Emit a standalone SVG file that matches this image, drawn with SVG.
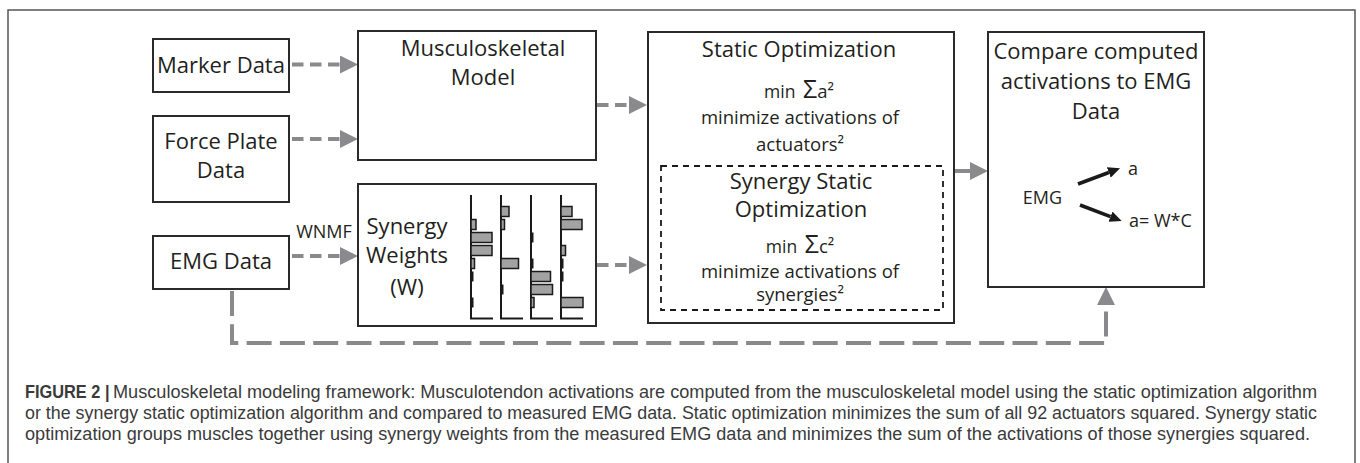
<svg xmlns="http://www.w3.org/2000/svg" width="1360" height="463" viewBox="0 0 1360 463">
<defs>
<style>
.box{fill:#fff;stroke:#2a2a2a;stroke-width:2}
.t{font-family:"Open Sans","Noto Sans",sans-serif;fill:#231f20;text-anchor:middle}
.t22{font-size:22px}
.t18{font-size:18.5px}
.con{fill:none;stroke:#8a8a8c;stroke-width:4}
.sd{stroke-dasharray:11.5 6.5}
.ld{stroke-dasharray:25 8.3}
.bar{fill:#a2a2a2;stroke:#1a1a1a;stroke-width:1.5}
.tick{fill:#1a1a1a}
.axis{fill:none;stroke:#1a1a1a;stroke-width:2}
.cap{font-family:"Liberation Sans",Arial,sans-serif;font-size:17.5px;fill:#3a3a3a}
</style>
<marker id="ga" markerUnits="userSpaceOnUse" markerWidth="18" markerHeight="18" refX="0" refY="9" orient="auto" viewBox="0 0 18 18">
<path d="M0,0 L18,9 L0,18 z" fill="#8a8a8c"/>
</marker>
<marker id="ba" markerUnits="userSpaceOnUse" markerWidth="12" markerHeight="11" refX="0" refY="5.5" orient="auto" viewBox="0 0 12 11">
<path d="M0,0 L12,5.5 L0,11 z" fill="#1a1a1a"/>
</marker>
</defs>
<rect width="1360" height="463" fill="#fff"/>
<path d="M8,463 V10 H1355 V463" fill="none" stroke="#555" stroke-width="1.5"/>

<g id="connectors">
<path class="con sd" d="M292,64.5 H340" marker-end="url(#ga)"/>
<path class="con sd" d="M292,139 H340" marker-end="url(#ga)"/>
<path class="con sd" d="M292,256 H340" marker-end="url(#ga)"/>
<path class="con sd" d="M597,105 H629" marker-end="url(#ga)"/>
<path class="con sd" d="M597,265 H629" marker-end="url(#ga)"/>
<path class="con" d="M955,171 H970" marker-end="url(#ga)"/>
<path class="con ld" d="M232,291 V343 H1106 V305" marker-end="url(#ga)"/>
</g>

<g id="marker-data">
<rect class="box" x="153" y="39" width="136" height="53"/>
<text class="t t22" x="221" y="73">Marker Data</text>
</g>

<g id="force-plate-data">
<rect class="box" x="153" y="116" width="136" height="86"/>
<text class="t t22" x="221" y="149">Force Plate</text>
<text class="t t22" x="221" y="178">Data</text>
</g>

<g id="emg-data">
<rect class="box" x="153" y="236" width="136" height="53"/>
<text class="t t22" x="221" y="269">EMG Data</text>
<text class="t" font-size="18" x="324" y="238">WNMF</text>
</g>

<g id="musculoskeletal-model">
<rect class="box" x="358" y="31" width="238" height="129"/>
<text class="t t22" x="483" y="56">Musculoskeletal</text>
<text class="t t22" x="483" y="85">Model</text>
</g>

<g id="synergy-weights">
<rect class="box" x="358" y="184" width="238" height="142"/>
<text class="t t22" x="407" y="234">Synergy</text>
<text class="t t22" x="407" y="263">Weights</text>
<text class="t t22" x="407" y="295">(W)</text>
<path class="axis" d="M471,195 V318.5 H493 M501,195 V318.5 H523 M531,195 V318.5 H553 M561,195 V318.5 H583"/>
<rect class="bar" x="471" y="219.5" width="5" height="10"/>
<rect class="bar" x="471" y="232.5" width="21" height="10"/>
<rect class="bar" x="471" y="245.5" width="21" height="10"/>
<rect class="bar" x="471" y="258.5" width="3.5" height="10"/>
<rect class="tick" x="471" y="271.5" width="2.5" height="10"/>
<rect class="tick" x="471" y="297.5" width="2.5" height="10"/>
<rect class="bar" x="501" y="206.5" width="8" height="10"/>
<rect class="bar" x="501" y="219.5" width="3.5" height="10"/>
<rect class="bar" x="501" y="258.5" width="17.5" height="10"/>
<rect class="tick" x="501" y="284.5" width="2.5" height="10"/>
<rect class="tick" x="531" y="232.5" width="2.5" height="10"/>
<rect class="tick" x="531" y="258.5" width="2.5" height="10"/>
<rect class="bar" x="531" y="271.5" width="19.5" height="10"/>
<rect class="bar" x="531" y="284.5" width="21.5" height="10"/>
<rect class="bar" x="531" y="297.5" width="3" height="10"/>
<rect class="bar" x="561" y="206.5" width="11" height="10"/>
<rect class="bar" x="561" y="219.5" width="21" height="10"/>
<rect class="bar" x="561" y="245.5" width="4.5" height="10"/>
<rect class="tick" x="561" y="258.5" width="2.5" height="10"/>
<rect class="tick" x="561" y="271.5" width="2.5" height="10"/>
<rect class="bar" x="561" y="297.5" width="22" height="10"/>
</g>

<g id="static-optimization">
<rect class="box" x="648" y="32" width="306" height="291"/>
<text class="t t22" x="799" y="57">Static Optimization</text>
<text class="t" x="799" y="97.5"><tspan font-size="17.5">min </tspan><tspan font-size="25" dx="3">Σ</tspan><tspan font-size="18.5">a²</tspan></text>
<text class="t t18" x="800" y="124">minimize activations of</text>
<text class="t t18" x="800" y="150.5">actuators²</text>
</g>

<g id="synergy-static-optimization">
<rect x="661" y="166" width="282" height="144" fill="none" stroke="#1a1a1a" stroke-width="1.8" stroke-dasharray="6 5"/>
<text class="t t22" x="801" y="188.5">Synergy Static</text>
<text class="t t22" x="801" y="216.5">Optimization</text>
<text class="t" x="800" y="253"><tspan font-size="17.5">min </tspan><tspan font-size="25" dx="3">Σ</tspan><tspan font-size="18.5">c²</tspan></text>
<text class="t t18" x="800" y="277.5">minimize activations of</text>
<text class="t t18" x="800" y="301">synergies²</text>
</g>

<g id="compare">
<rect class="box" x="988" y="32" width="216" height="255"/>
<text class="t t22" x="1096" y="59">Compare computed</text>
<text class="t t22" x="1096" y="88.5">activations to EMG</text>
<text class="t t22" x="1096" y="119">Data</text>
<text class="t" font-size="18" x="1042.5" y="203.5">EMG</text>
<text class="t" font-size="18" x="1133" y="175">a</text>
<text class="t" font-size="18" style="text-anchor:start" x="1129" y="227">a= W*C</text>
<path d="M1078,184 L1108.8,172.5" fill="none" stroke="#1a1a1a" stroke-width="3.5" marker-end="url(#ba)"/>
<path d="M1080,205 L1110.5,216.7" fill="none" stroke="#1a1a1a" stroke-width="3.5" marker-end="url(#ba)"/>
</g>

<g id="caption">
<text class="cap" x="25" y="397.5" font-weight="bold" textLength="84.5" lengthAdjust="spacingAndGlyphs">FIGURE 2 |</text>
<text class="cap" x="113" y="397.5" textLength="1204" lengthAdjust="spacingAndGlyphs">Musculoskeletal modeling framework: Musculotendon activations are computed from the musculoskeletal model using the static optimization algorithm</text>
<text class="cap" x="25" y="418.5" textLength="1292" lengthAdjust="spacingAndGlyphs">or the synergy static optimization algorithm and compared to measured EMG data. Static optimization minimizes the sum of all 92 actuators squared. Synergy static</text>
<text class="cap" x="25" y="439.5" textLength="1285" lengthAdjust="spacingAndGlyphs">optimization groups muscles together using synergy weights from the measured EMG data and minimizes the sum of the activations of those synergies squared.</text>
</g>
</svg>
